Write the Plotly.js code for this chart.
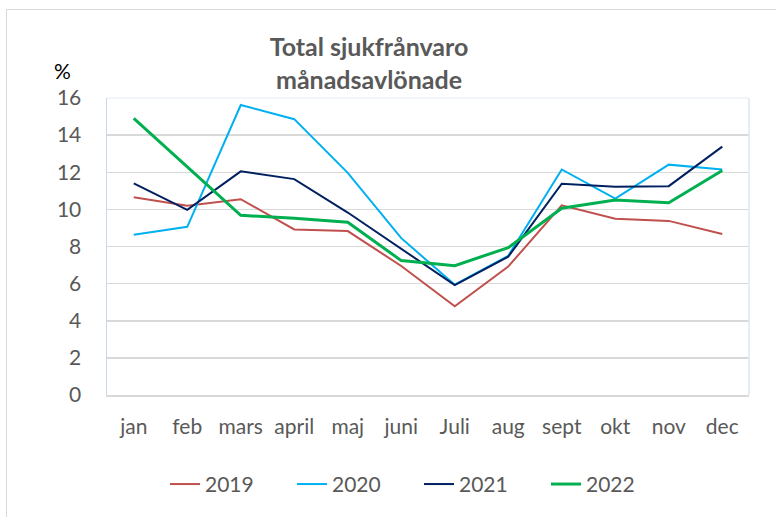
<!DOCTYPE html>
<html>
<head>
<meta charset="utf-8">
<script src="https://cdn.plot.ly/plotly-3.0.1.min.js"></script>
<style>
html,body{margin:0;padding:0;background:#fff;width:776px;height:517px;overflow:hidden;}
#frame{position:absolute;left:6px;top:9px;width:800px;height:600px;border:1.5px solid #D9D9D9;}
#chart{position:absolute;left:0;top:0;width:776px;height:517px;}
</style>
</head>
<body>
<div id="frame"></div>
<div id="chart"></div>
<script>
const months = ["jan","feb","mars","april","maj","juni","Juli","aug","sept","okt","nov","dec"];
const y2019 = [10.65, 10.2, 10.55, 8.92, 8.83, 6.95, 4.78, 6.92, 10.22, 9.5, 9.38, 8.67];
const y2020 = [8.63, 9.06, 15.62, 14.86, 11.97, 8.45, 5.94, 7.5, 12.15, 10.58, 12.41, 12.15];
const y2021 = [11.4, 9.97, 12.05, 11.63, 9.83, 7.87, 5.92, 7.45, 11.38, 11.22, 11.25, 13.38];
const y2022 = [14.9, 12.3, 9.68, 9.52, 9.31, 7.24, 6.97, 7.94, 10.06, 10.5, 10.36, 12.09];
const seriesNames = ["2019","2020","2021","2022"];
const colors = ["#C0504D","#00B0F0","#002060","#00B050"];
const widths = [2, 2, 2, 3];
const ys = [y2019, y2020, y2021, y2022];

const traces = ys.map((y,i)=>({
  x: months, y: y, name: seriesNames[i], type:'scatter', mode:'lines',
  line:{color:colors[i], width:widths[i]}
}));

const font = "Lato, 'Open Sans', sans-serif";
const layout = {
  width:776, height:517,
  paper_bgcolor:'rgba(0,0,0,0)', plot_bgcolor:'#fff',
  margin:{l:107, r:27, t:98, b:120},
  font:{family:font, size:21, color:'#595959'},
  title:{text:'<b>Total sjukfrånvaro<br>månadsavlönade</b>', x:369/776, xanchor:'center', y:1-56/517, yanchor:'middle',
    font:{family:font, size:25, color:'#595959'}},
  showlegend:true,
  legend:{orientation:'h', x:(165-107)/642, xanchor:'left', y:(397-487)/299, yanchor:'middle',
    font:{family:font, size:21, color:'#595959'}, entrywidth:82, entrywidthmode:'pixels'},
  xaxis:{type:'category', range:[-0.5, 11.5], showgrid:false, zeroline:false,
    showline:true, linecolor:'#D9D9D9', linewidth:1.5, ticks:'', ticklen:0,
    tickfont:{family:font, size:21, color:'#595959'}, ticklabelstandoff:12, automargin:false},
  yaxis:{range:[0,16], dtick:2, showgrid:true, gridcolor:'#D9D9D9', gridwidth:1.5,
    zeroline:false, showline:true, linecolor:'#C9D7EA', linewidth:1.5, ticks:'',
    tickfont:{family:font, size:21, color:'#595959'}, ticklabelstandoff:20, automargin:false},
  shapes:[
    {type:'line', xref:'paper', yref:'paper', x0:0, x1:1, y0:1, y1:1, line:{color:'#EEF3FA', width:1.5}},
    {type:'line', xref:'paper', yref:'paper', x0:1, x1:1, y0:0, y1:1, line:{color:'#DCE6F2', width:1.5}}
  ],
  annotations:[
    {text:'%', xref:'paper', yref:'paper', x:(62-107)/642, y:(397-70)/299, xanchor:'center', yanchor:'middle',
     showarrow:false, font:{family:font, size:21, color:'#000'}}
  ]
};
Plotly.newPlot('chart', traces, layout, {displayModeBar:false, staticPlot:true});
</script>
</body>
</html>
